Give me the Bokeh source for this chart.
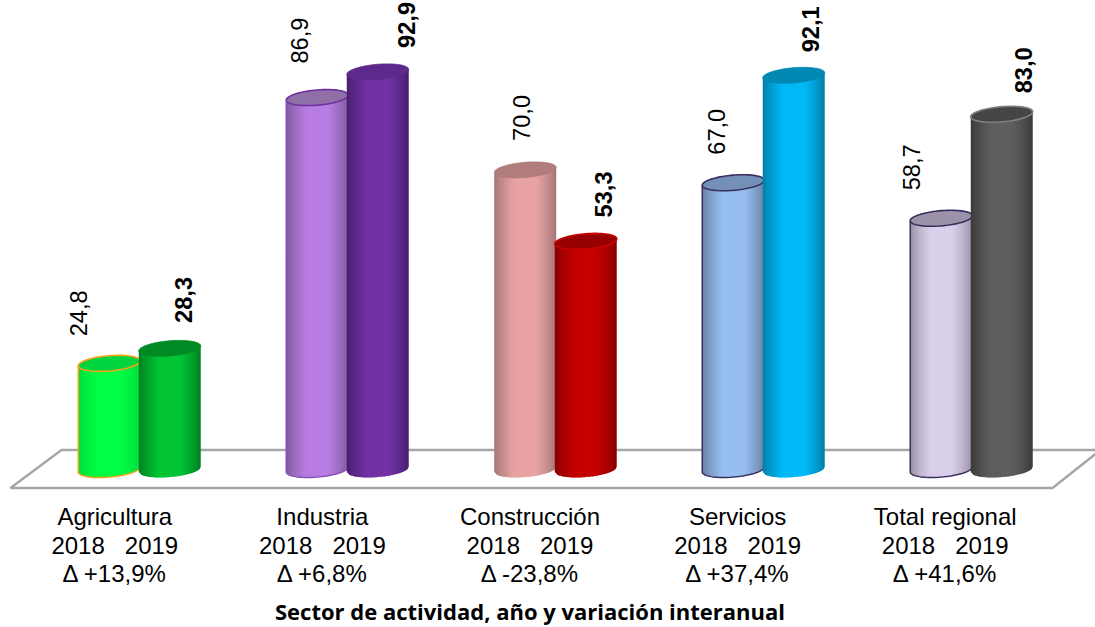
import math
from bokeh.plotting import figure
from bokeh.embed import file_html
from bokeh.resources import INLINE
from bokeh.core.properties import value

# ---- data ----
categories = ["Agricultura", "Industria", "Construcción", "Servicios", "Total regional"]
year_labels = ["2018\u00a0\u00a0\u00a02019"] * 5
deltas = ["Δ +13,9%", "Δ +6,8%", "Δ -23,8%", "Δ +37,4%", "Δ +41,6%"]
values_2018 = [24.8, 86.9, 70.0, 67.0, 58.7]
values_2019 = [28.3, 92.9, 53.3, 92.1, 83.0]
axis_title = "Sector de actividad, año y variación interanual"

# ---- styles: (mid, edge, top, rim, body outline) ----
style_2018 = [
    ("#00ff44", "#00d93c", "#00d53f", "#f5a31a", "#f5a31a"),
    ("#b87ce2", "#7a5a9a", "#8f6fa8", "#7030a0", "#8a50b8"),
    ("#e8a2a2", "#a07474", "#b07c7c", None, None),
    ("#96bfef", "#667aa0", "#7590b8", "#38305c", "#38305c"),
    ("#dacfea", "#958ca2", "#9c92aa", "#38305c", "#38305c"),
]
style_2019 = [
    ("#00c433", "#007a22", "#008a24", None, None),
    ("#7232a4", "#451d6a", "#5d2a8c", None, None),
    ("#c40000", "#840000", "#960000", "#cc0000", None),
    ("#00b9f6", "#007ba3", "#0088b2", None, None),
    ("#5e5e5e", "#383838", "#454545", "#808080", None),
]
label_dx_2018 = [-30.5, -18, -3.5, -16.5, -29.5]
label_dx_2019 = [13.5, 29, 17.5, 16.5, 21.5]
label_gap_2018 = [27, 34, 29, 28, 28]
label_gap_2019 = [25.5, 24, 24, 23, 21]

# ---- layout ----
W, H = 1095, 627
PX_PER_GROUP = 208.0
PX_PER_UNIT = 4.28
LABEL_PITCH_PX = 207.6
X0_PX, Y0_PX = 139.25, 469.0   # window pixel of group 0 centre / of value 0
BAR_OFFSET = {2018: -30.5, 2019: 30.0}
A, B, TILT = 31.0, 7.6, 0.08
N_STRIPS = 30

def dx(px):
    return px / PX_PER_GROUP

def dy(px):
    return px / PX_PER_UNIT

def X(px):
    return (px - X0_PX) / PX_PER_GROUP

def Y(px):
    return (Y0_PX - px) / PX_PER_UNIT

def hex2rgb(h):
    return tuple(int(h[i:i + 2], 16) for i in (1, 3, 5))

def mix(c1, c2, t):
    a, b = hex2rgb(c1), hex2rgb(c2)
    return "#%02x%02x%02x" % tuple(round(a[i] + (b[i] - a[i]) * t) for i in range(3))

p = figure(
    width=W, height=H, output_backend="svg", toolbar_location=None,
    x_range=(X(0), X(W)), y_range=(Y(H), Y(0)),
    min_border=0, min_border_left=0, min_border_right=0, min_border_top=0, min_border_bottom=0,
    outline_line_color=None, background_fill_color="white", border_fill_color="white",
)
p.axis.visible = False
p.grid.visible = False

# floor
floor_x = [X(10), X(61), X(1100), X(1052), X(10)]
floor_y = [Y(487.5), Y(449.5), Y(449.5), Y(487.5), Y(487.5)]
p.patch(floor_x, floor_y, fill_color="white", line_color="#a6a6a6", line_width=2.4)

def cylinder(i, year, val, style):
    mid, edge, top, rim, outline = style
    xc = i + dx(BAR_OFFSET[year])
    a, b = dx(A), dy(B)
    tilt_v = dy(A * TILT)           # rise at the right side, in value units
    xs, ys, cols = [], [], []
    for s in range(N_STRIPS):
        u0 = -1 + 2 * s / N_STRIPS
        u1 = -1 + 2 * (s + 1) / N_STRIPS
        um = (u0 + u1) / 2
        t = min(1.0, (1 - abs(um)) / 0.65) ** 0.75
        # every strip reaches one pixel under its right neighbour, so no seam shows
        u2 = min(1.0, u1 + 1 / A) if s < N_STRIPS - 1 else u1
        low0 = tilt_v * u0 - b * math.sqrt(max(0, 1 - u0 * u0))
        low1 = tilt_v * u2 - b * math.sqrt(max(0, 1 - u2 * u2))
        xs.append([xc + a * u0, xc + a * u2, xc + a * u2, xc + a * u0])
        ys.append([low0, low1, val + tilt_v * u2, val + tilt_v * u0])
        cols.append(mix(edge, mid, t))
    p.patches(xs, ys, fill_color=cols, line_color=None)
    # top ellipse and outlines
    ang = [2 * math.pi * k / 72 for k in range(73)]
    ex = [xc + a * math.cos(q) for q in ang]
    ey = [val + tilt_v * math.cos(q) + b * math.sin(q) for q in ang]
    p.patch(ex, ey, fill_color=top, line_color=rim if rim else top, line_width=1.6 if rim else 0.8)
    if outline:
        half = [math.pi + math.pi * k / 36 for k in range(37)]
        ox = [xc - a] + [xc + a * math.cos(q) for q in half] + [xc + a]
        oy = [val - tilt_v] + [tilt_v * math.cos(q) + b * math.sin(q) for q in half] + [val + tilt_v]
        p.line(ox, oy, line_color=outline, line_width=1.5)

for i in range(len(categories)):
    cylinder(i, 2018, values_2018[i], style_2018[i])
    cylinder(i, 2019, values_2019[i], style_2019[i])

# value labels
def fmt(v):
    return f"{v:.1f}".replace(".", ",")

groups = range(len(categories))
for vals, off, ldx, gap, style in (
    (values_2018, BAR_OFFSET[2018], label_dx_2018, label_gap_2018, "normal"),
    (values_2019, BAR_OFFSET[2019], label_dx_2019, label_gap_2019, "bold"),
):
    p.text(
        x=[i + dx(off + ldx[i]) for i in groups],
        y=[vals[i] + dy(gap[i]) for i in groups],
        text=[fmt(v) for v in vals],
        angle=math.pi / 2, text_align="left", text_baseline="middle",
        text_font=value("Liberation Sans"), text_font_size="23.6px",
        text_font_style=style, text_color="#000000",
    )

# category labels
LABEL_X0 = 114.3
for row, (texts, ypx) in enumerate(((categories, 516), (year_labels, 544.5), (deltas, 572.5))):
    p.text(
        x=[X(LABEL_X0 + i * LABEL_PITCH_PX) for i in groups], y=[Y(ypx)] * len(texts), text=texts,
        text_align="center", text_baseline="middle",
        text_font=value("Liberation Sans"), text_font_size="24px", text_color="#000000",
    )

p.text(
    x=[X(529.5)], y=[Y(610)], text=[axis_title], text_align="center", text_baseline="middle",
    text_font=value("Open Sans"), text_font_size="22px", text_font_style="bold", text_color="#000000",
)

open("out.html", "w").write(file_html(p, INLINE))
